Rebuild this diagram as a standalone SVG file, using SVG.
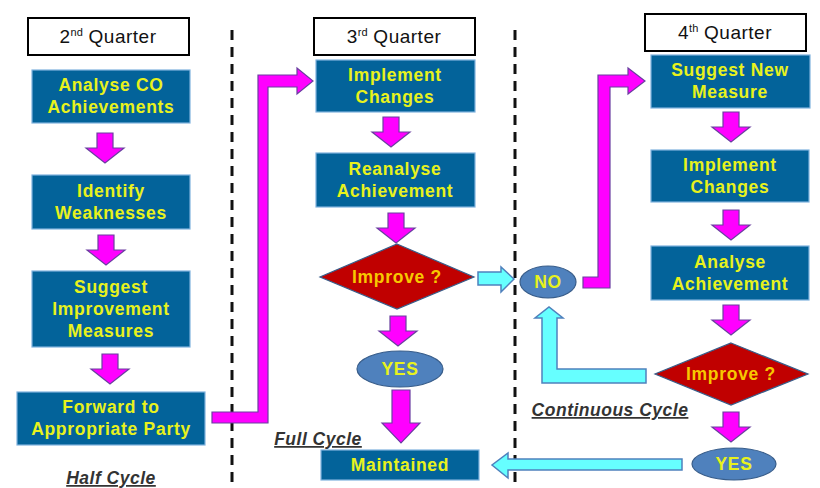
<svg xmlns="http://www.w3.org/2000/svg" width="820" height="488" viewBox="0 0 820 488">
<defs>
<style>
.q{fill:#fff;stroke:#000;stroke-width:2}
.qt{font-family:"Liberation Sans",Arial,sans-serif;font-size:19px;letter-spacing:0.5px;fill:#111;text-anchor:middle}
.sup{font-size:11px;letter-spacing:0}
.box{fill:#03639a;stroke:#7fb2de;stroke-width:1.2}
.bt{font-family:"Liberation Sans",Arial,sans-serif;font-weight:bold;font-size:17.5px;letter-spacing:0.7px;fill:#e8f21c;text-anchor:middle}
.dia{fill:#c00000;stroke:#385d8a;stroke-width:1.2}
.dt{font-family:"Liberation Sans",Arial,sans-serif;font-weight:bold;font-size:17.5px;letter-spacing:0.7px;fill:#f7c800;text-anchor:middle}
.ell{fill:#4f81bd;stroke:#385d8a;stroke-width:1.2}
.mag{fill:#ff00ff;stroke:#6a3fa0;stroke-width:1.2}
.cy{fill:#66ffff;stroke:#4f81bd;stroke-width:1.5}
.dash{stroke:#111;stroke-width:3;stroke-dasharray:10 7;fill:none}
.lab{font-family:"Liberation Sans",Arial,sans-serif;font-weight:bold;font-style:italic;font-size:17.5px;letter-spacing:0.5px;fill:#333;text-decoration:underline;text-anchor:middle}
</style>
<path id="da" d="M-8,0 H8 V15 H19 L0,30 L-19,15 H-8 Z"/>
</defs>

<g id="dividers">
<line class="dash" x1="232" y1="30" x2="232" y2="484"/>
<line class="dash" x1="515" y1="30" x2="515" y2="486"/>
</g>

<g id="q2"><rect class="q" x="28" y="18" width="161" height="37"/><text class="qt" x="108" y="43">2<tspan class="sup" dy="-7">nd</tspan><tspan dy="7"> Quarter</tspan></text></g>
<g id="q3"><rect class="q" x="314" y="18" width="161" height="37"/><text class="qt" x="394" y="43">3<tspan class="sup" dy="-7">rd</tspan><tspan dy="7"> Quarter</tspan></text></g>
<g id="q4"><rect class="q" x="645" y="14" width="161" height="37"/><text class="qt" x="725" y="39">4<tspan class="sup" dy="-7">th</tspan><tspan dy="7"> Quarter</tspan></text></g>

<g id="analyseCO"><rect class="box" x="32" y="70" width="158" height="53"/><text class="bt" x="111" y="91">Analyse CO</text><text class="bt" x="111" y="113">Achievements</text></g>
<g id="identify"><rect class="box" x="32" y="175" width="158" height="54"/><text class="bt" x="111" y="197">Identify</text><text class="bt" x="111" y="219">Weaknesses</text></g>
<g id="suggestImp"><rect class="box" x="32" y="271" width="158" height="76"/><text class="bt" x="111" y="293">Suggest</text><text class="bt" x="111" y="315">Improvement</text><text class="bt" x="111" y="337">Measures</text></g>
<g id="forward"><rect class="box" x="17" y="392" width="188" height="53"/><text class="bt" x="111" y="413">Forward to</text><text class="bt" x="111" y="435">Appropriate Party</text></g>

<g id="implement3"><rect class="box" x="316" y="60" width="159" height="52"/><text class="bt" x="395" y="81">Implement</text><text class="bt" x="395" y="103">Changes</text></g>
<g id="reanalyse"><rect class="box" x="316" y="153" width="159" height="54"/><text class="bt" x="395" y="175">Reanalyse</text><text class="bt" x="395" y="197">Achievement</text></g>
<g id="improve3"><polygon class="dia" points="397,244 474,277 397,309 320,277"/><text class="dt" x="397" y="283">Improve ?</text></g>
<g id="yes3"><ellipse class="ell" cx="400" cy="369" rx="43" ry="18"/><text class="bt" x="400" y="375">YES</text></g>
<g id="maintained"><rect class="box" x="321" y="450" width="158" height="30"/><text class="bt" x="400" y="471">Maintained</text></g>

<g id="no"><ellipse class="ell" cx="548" cy="282" rx="28" ry="16"/><text class="bt" x="548" y="288">NO</text></g>

<g id="suggestNew"><rect class="box" x="651" y="55" width="159" height="53"/><text class="bt" x="730" y="76">Suggest New</text><text class="bt" x="730" y="98">Measure</text></g>
<g id="implement4"><rect class="box" x="651" y="150" width="158" height="52"/><text class="bt" x="730" y="171">Implement</text><text class="bt" x="730" y="193">Changes</text></g>
<g id="analyse4"><rect class="box" x="651" y="246" width="158" height="54"/><text class="bt" x="730" y="268">Analyse</text><text class="bt" x="730" y="290">Achievement</text></g>
<g id="improve4"><polygon class="dia" points="731,343 808,374 731,405 655,374"/><text class="dt" x="731" y="380">Improve ?</text></g>
<g id="yes4"><ellipse class="ell" cx="734" cy="464" rx="42" ry="16"/><text class="bt" x="734" y="470">YES</text></g>

<g id="connectors">
<use href="#da" class="mag" x="105" y="133"/>
<use href="#da" class="mag" x="106" y="235"/>
<use href="#da" class="mag" x="110" y="354"/>
<use href="#da" class="mag" x="391" y="117"/>
<use href="#da" class="mag" x="396" y="213"/>
<use href="#da" class="mag" x="398" y="316"/>
<path class="mag" d="M392,390 H410 V423 H420 L401,443 L382,423 H392 Z"/>
<use href="#da" class="mag" x="731" y="112"/>
<use href="#da" class="mag" x="731" y="210"/>
<use href="#da" class="mag" x="731" y="305"/>
<use href="#da" class="mag" x="731" y="412"/>
<polygon class="mag" points="212,412 258,412 258,75 297,75 297,68 313,81 297,94 297,87 268,87 268,423 212,423"/>
<polygon class="mag" points="583,277 598,277 598,75 628,75 628,68 645,81 628,94 628,87 610,87 610,288 583,288"/>
<polygon class="cy" points="478,272 501,272 501,267 514,279 501,292 501,285 478,285"/>
<polygon class="cy" points="646,369 557,369 557,318 563,318 549,307 535,318 542,318 542,383 646,383"/>
<polygon class="cy" points="682,459 508,459 508,453 492,465 508,478 508,470 682,470"/>
</g>

<g id="labels">
<text class="lab" x="111" y="484">Half Cycle</text>
<text class="lab" x="318" y="445">Full Cycle</text>
<text class="lab" x="610" y="416">Continuous Cycle</text>
</g>
</svg>
